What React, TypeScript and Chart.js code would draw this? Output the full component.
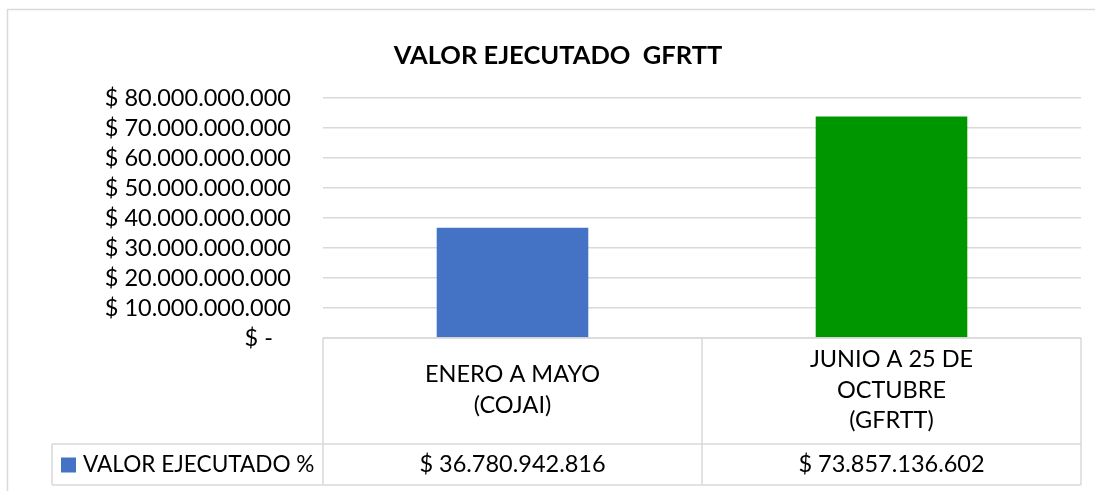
import React, { useEffect, useRef } from "react";
import { Chart, registerables } from "chart.js";

Chart.register(...registerables);

const chartTitle = "VALOR EJECUTADO  GFRTT";
const categories: string[][] = [
  ["ENERO A MAYO", "(COJAI)"],
  ["JUNIO A 25 DE", "OCTUBRE", "(GFRTT)"],
];
const seriesName = "VALOR EJECUTADO %";
const seriesValues = [36780942816, 73857136602];
const barColors = ["#4472C4", "#009600"];
const yMax = 80000000000;
const yStep = 10000000000;

const FONT = 'Lato, "Noto Sans", sans-serif';
const GRID = "#d9d9d9";
const FS = 23.5;

function fmt(v: number): string {
  if (v === 0) return "$ -   ";
  return "$ " + Math.round(v).toString().replace(/\B(?=(\d{3})+(?!\d))/g, ".");
}

const tablePlugin = {
  id: "excelTable",
  beforeDraw(chart: any) {
    const ctx = chart.ctx;
    ctx.save();
    ctx.fillStyle = "#ffffff";
    ctx.fillRect(0, 0, chart.width, chart.height);
    ctx.strokeStyle = GRID;
    ctx.lineWidth = 1.5;
    ctx.beginPath();
    ctx.moveTo(7.5, chart.height + 5);
    ctx.lineTo(7.5, 9.5);
    ctx.lineTo(chart.width + 5, 9.5);
    ctx.stroke();
    ctx.fillStyle = "#000000";
    ctx.font = `bold 25.5px ${FONT}`;
    ctx.textAlign = "center";
    ctx.textBaseline = "middle";
    ctx.fillText(chartTitle, 558, 56);
    ctx.restore();
  },
  afterDraw(chart: any) {
    const ctx = chart.ctx;
    const xs = chart.scales.x;
    const area = chart.chartArea;
    const n = categories.length;
    const catW = (area.right - area.left) / n;
    const top = area.bottom;
    const headerH = 106;
    const rowH = 41;
    const mid = top + headerH;
    const bot = mid + rowH;
    const legendLeft = 52;

    ctx.save();
    ctx.strokeStyle = GRID;
    ctx.lineWidth = 1.5;
    ctx.beginPath();
    ctx.moveTo(area.left, top);
    ctx.lineTo(area.right, top);
    ctx.moveTo(legendLeft, mid);
    ctx.lineTo(area.right, mid);
    ctx.moveTo(legendLeft, bot);
    ctx.lineTo(area.right, bot);
    ctx.moveTo(legendLeft, mid);
    ctx.lineTo(legendLeft, bot);
    for (let i = 0; i <= n; i++) {
      const x = area.left + i * catW;
      ctx.moveTo(x, top);
      ctx.lineTo(x, bot);
    }
    ctx.stroke();

    ctx.fillStyle = "#000000";
    ctx.font = `${FS}px ${FONT}`;
    ctx.textAlign = "center";
    ctx.textBaseline = "middle";
    const lineH = 30.5;
    for (let i = 0; i < n; i++) {
      const cx = xs.getPixelForValue(i);
      const lines = categories[i];
      const cy = top + headerH / 2 - 1;
      const start = cy - ((lines.length - 1) * lineH) / 2;
      lines.forEach((ln, j) => ctx.fillText(ln, cx, start + j * lineH));
      ctx.fillText(fmt(seriesValues[i]), cx, mid + rowH / 2);
    }
    ctx.fillStyle = barColors[0];
    ctx.fillRect(61, mid + rowH / 2 - 7, 15, 15);
    ctx.fillStyle = "#000000";
    ctx.textAlign = "left";
    ctx.font = `22.6px ${FONT}`;
    ctx.fillText(seriesName, 83, mid + rowH / 2);
    ctx.restore();
  },
};

export default function App() {
  const ref = useRef<HTMLCanvasElement | null>(null);
  useEffect(() => {
    if (!ref.current) return;
    Chart.defaults.font.family = FONT;
    const chart = new Chart(ref.current, {
      type: "bar",
      data: {
        labels: categories.map((c) => c.join(" ")),
        datasets: [
          {
            label: seriesName,
            data: seriesValues,
            backgroundColor: barColors,
            borderWidth: 0,
            categoryPercentage: 1,
            barPercentage: 0.4,
          },
        ],
      },
      options: {
        animation: false,
        responsive: false,
        maintainAspectRatio: false,
        layout: { padding: { left: 0, right: 14, top: 98, bottom: 153 } },
        plugins: {
          legend: { display: false },
          title: { display: false },
          tooltip: { enabled: false },
        },
        scales: {
          x: { display: false },
          y: {
            min: 0,
            max: yMax,
            afterFit: (scale: any) => {
              scale.width = 323;
            },
            ticks: {
              stepSize: yStep,
              autoSkip: false,
              padding: 32,
              color: "#000000",
              font: { size: FS, family: FONT },
              callback: (v: any) => fmt(Number(v)),
            },
            grid: { color: GRID, lineWidth: 1.5, drawTicks: false },
            border: { display: false },
          },
        },
      },
      plugins: [tablePlugin],
    });
    return () => chart.destroy();
  }, []);
  return (
    <div style={{ position: "fixed", left: 0, top: 0, width: 1095, height: 491, background: "#fff" }}>
      <canvas ref={ref} width={1095} height={491} />
    </div>
  );
}
